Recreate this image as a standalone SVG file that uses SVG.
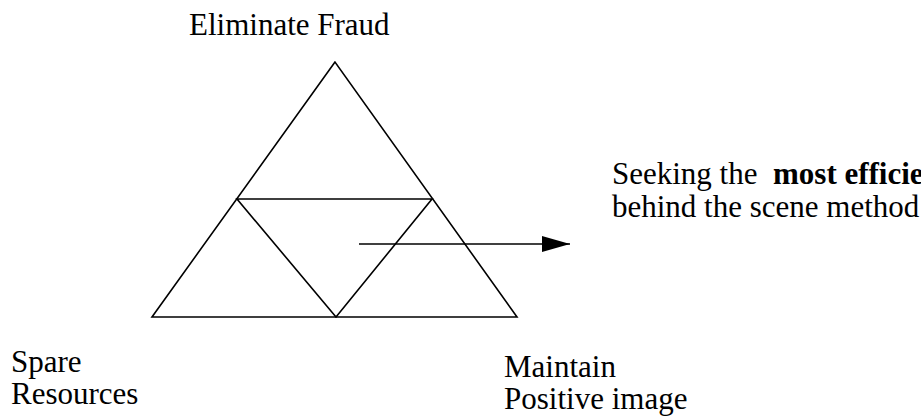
<svg xmlns="http://www.w3.org/2000/svg" width="921" height="416" viewBox="0 0 921 416">
<defs>
<style>
text{font-family:"Liberation Serif","Times New Roman",serif;font-size:31px;fill:#000}
.ln{stroke:#000;stroke-width:1.6;fill:none;stroke-linejoin:miter}
</style>
<marker id="ah" markerUnits="userSpaceOnUse" markerWidth="30" markerHeight="18" refX="28" refY="8" orient="auto"><path d="M0,0 L28,8 L0,16 Z" fill="#000"/></marker>
</defs>
<rect width="921" height="416" fill="#fff"/>
<g id="pyramid">
<path class="ln" d="M335,62 L152,317 L517,317 Z"/>
<path class="ln" d="M237,199 L432,199 L336,317 Z"/>
</g>
<g id="connectors">
<line class="ln" x1="359" y1="244" x2="570" y2="244" marker-end="url(#ah)"/>
</g>
<g id="top"><text x="189" y="35">Eliminate Fraud</text></g>
<g id="right"><text x="612" y="184" xml:space="preserve">Seeking the  <tspan font-weight="bold">most efficie</tspan></text><text x="612" y="217">behind the scene method</text></g>
<g id="left"><text x="11" y="372">Spare</text><text x="11" y="404">Resources</text></g>
<g id="bottom"><text x="504" y="377">Maintain</text><text x="504" y="409">Positive image</text></g>
</svg>
